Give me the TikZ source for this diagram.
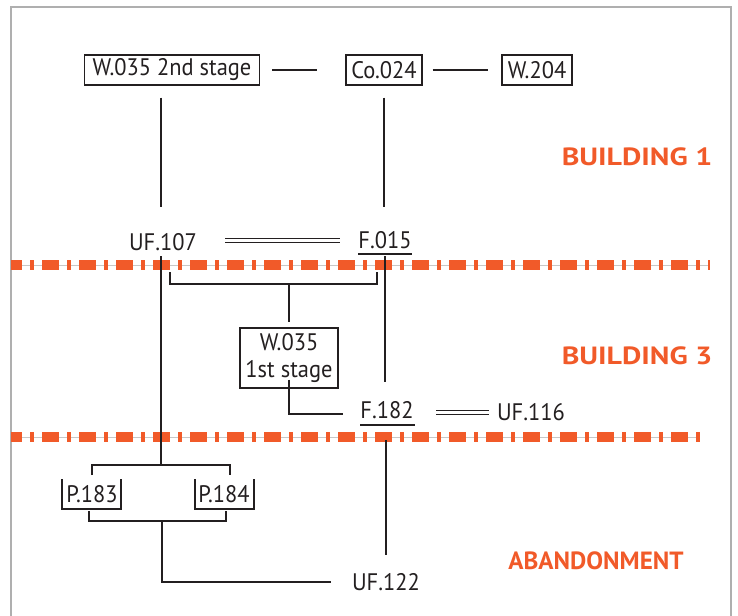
\documentclass[tikz,border=0pt]{standalone}
\usepackage{fontspec}
\setmainfont{PT Sans}[FakeStretch=0.94]
\newfontfamily\zonefont{PT Sans Bold}[FakeStretch=1.2]
\definecolor{orng}{RGB}{241,90,41}
\definecolor{frm}{RGB}{175,175,175}
\definecolor{ink}{RGB}{35,31,32}
\begin{document}
\begin{tikzpicture}[x=1bp,y=-1bp,
  lbl/.style={font=\fontsize{24}{26}\selectfont, inner sep=0pt, text=ink},
  boxed/.style={lbl, draw=ink, line width=1.4bp, minimum height=30bp},
  zone/.style={font=\zonefont\fontsize{25}{27}\selectfont, text=orng, inner sep=0pt},
  conn/.style={line width=1.4bp, draw=ink},
  dbl/.style={draw=ink, line width=1.3bp, double, double distance=3.2bp},
  thinline/.style={draw=frm!70, line width=1bp},
  phaseline/.style={draw=orng, line width=10bp, dash pattern=on 17bp off 8bp on 4bp off 8bp, dash phase=6bp}]
\useasboundingbox (0,0) rectangle (738,616);
% frame
\coordinate (fbl) at (11,616);
\coordinate (ftl) at (11,7);
\coordinate (ftr) at (731,7);
\coordinate (fbr) at (731,616);
\draw[draw=frm, line width=1.2bp] (fbl) -- (ftl) -- (ftr) -- (fbr);

% phase lines
\coordinate (d1a) at (11,265);
\coordinate (d1b) at (710,265);
\coordinate (d2a) at (11,437);
\coordinate (d2b) at (700,437);
\draw[thinline] (d1a) -- (d1b);
\draw[thinline] (d2a) -- (d2b);
\draw[phaseline] (d1a) -- (d1b);
\draw[phaseline] (d2a) -- (d2b);

% zone labels
\node[zone] (b1) at (637,157) {BUILDING 1};
\node[zone] (b3) at (637,356) {BUILDING 3};
\node[zone] (ab) at (596,561) {\scalebox{0.84}[1]{ABANDONMENT}};

% top row
\node[boxed, minimum width=175bp] (w35b) at (172,70) {W.035 2nd stage};
\node[boxed, minimum width=76bp] (co) at (384,70) {Co.024};
\node[boxed, minimum width=70bp] (w204) at (537,70) {W.204};
\draw[conn] ([xshift=12bp]w35b.east) -- ([xshift=-28bp]co.west);
\draw[conn] ([xshift=10bp]co.east) -- ([xshift=-13bp]w204.west);

% building 1 level
\node[lbl] (uf107) at (163,242) {UF.107};
\node[lbl] (f015) at (385,240) {F.015};
\coordinate (u107top) at (161,207);
\coordinate (f015top) at (384,207);
\draw[conn] (w35b.south -| u107top) ++(0,12) -- (u107top);
\draw[conn] (co.south -| f015top) ++(0,12) -- (f015top);
\coordinate (dbl1a) at (225,240.5);
\coordinate (dbl1b) at (340,240.5);
\draw[dbl] (dbl1a) -- (dbl1b);
\coordinate (f015ul) at (358,254);
\coordinate (f015ur) at (412,254);
\draw[conn] (f015ul) -- (f015ur);

% building 3 level
\node[boxed, minimum width=98bp, minimum height=60bp, align=center, font=\fontsize{24}{27}\selectfont] (w35a) at (289,358) {W.035\\1st stage};
\node[lbl] (f182) at (387,410) {F.182};
\node[lbl] (uf116) at (531,412) {UF.116};
\coordinate (brl) at (170,272);
\coordinate (brr) at (377,272);
\coordinate (brm) at (289,284);
\draw[conn] (brl) -- (brl |- brm) -- (brr |- brm) -- (brr);
\draw[conn] (brm) -- ([yshift=5bp]w35a.north);
\coordinate (f015bot) at (385,256);
\coordinate (f182top) at (385,382);
\draw[conn] (f015bot) -- (f182top);
\coordinate (lcorner) at (289,414);
\coordinate (lend) at (343,414);
\draw[conn] ([yshift=9bp]w35a.south) -- (lcorner) -- (lend);
\coordinate (f182ul) at (360,425);
\coordinate (f182ur) at (415,425);
\draw[conn] (f182ul) -- (f182ur);
\coordinate (dbl2a) at (436,412.5);
\coordinate (dbl2b) at (489,412.5);
\draw[dbl] (dbl2a) -- (dbl2b);

% abandonment level
\coordinate (u107bot) at (161,256);
\coordinate (ptop) at (161,465);
\draw[conn] (u107bot) -- (ptop);
\node[lbl] (p183) at (92,494) {P.183};
\node[lbl] (p184) at (224,494) {P.184};
\coordinate (ptl) at (92,475);
\coordinate (ptr) at (230,475);
\draw[conn] (ptl) -- (ptl |- ptop) -- (ptr |- ptop) -- (ptr);
\coordinate (p183a) at (62,479);
\coordinate (p183b) at (121,509);
\draw[conn] (p183a) -- (p183a |- p183b) -- (p183b) -- (p183b |- p183a);
\coordinate (p184a) at (195,479);
\coordinate (p184b) at (254,509);
\draw[conn] (p184a) -- (p184a |- p184b) -- (p184b) -- (p184b |- p184a);
\coordinate (pbl) at (89,511);
\coordinate (pbr) at (226,511);
\coordinate (pbm) at (162,521);
\draw[conn] (pbl) -- (pbl |- pbm) -- (pbr |- pbm) -- (pbr);
\node[lbl] (uf122) at (386,582) {UF.122};
\coordinate (bcorner) at (162,582);
\coordinate (bend) at (331,582);
\draw[conn] (pbm) -- (bcorner) -- (bend);
\coordinate (f182bot) at (386,440);
\coordinate (uf122top) at (386,555);
\draw[conn] (f182bot) -- (uf122top);
\end{tikzpicture}
\end{document}
